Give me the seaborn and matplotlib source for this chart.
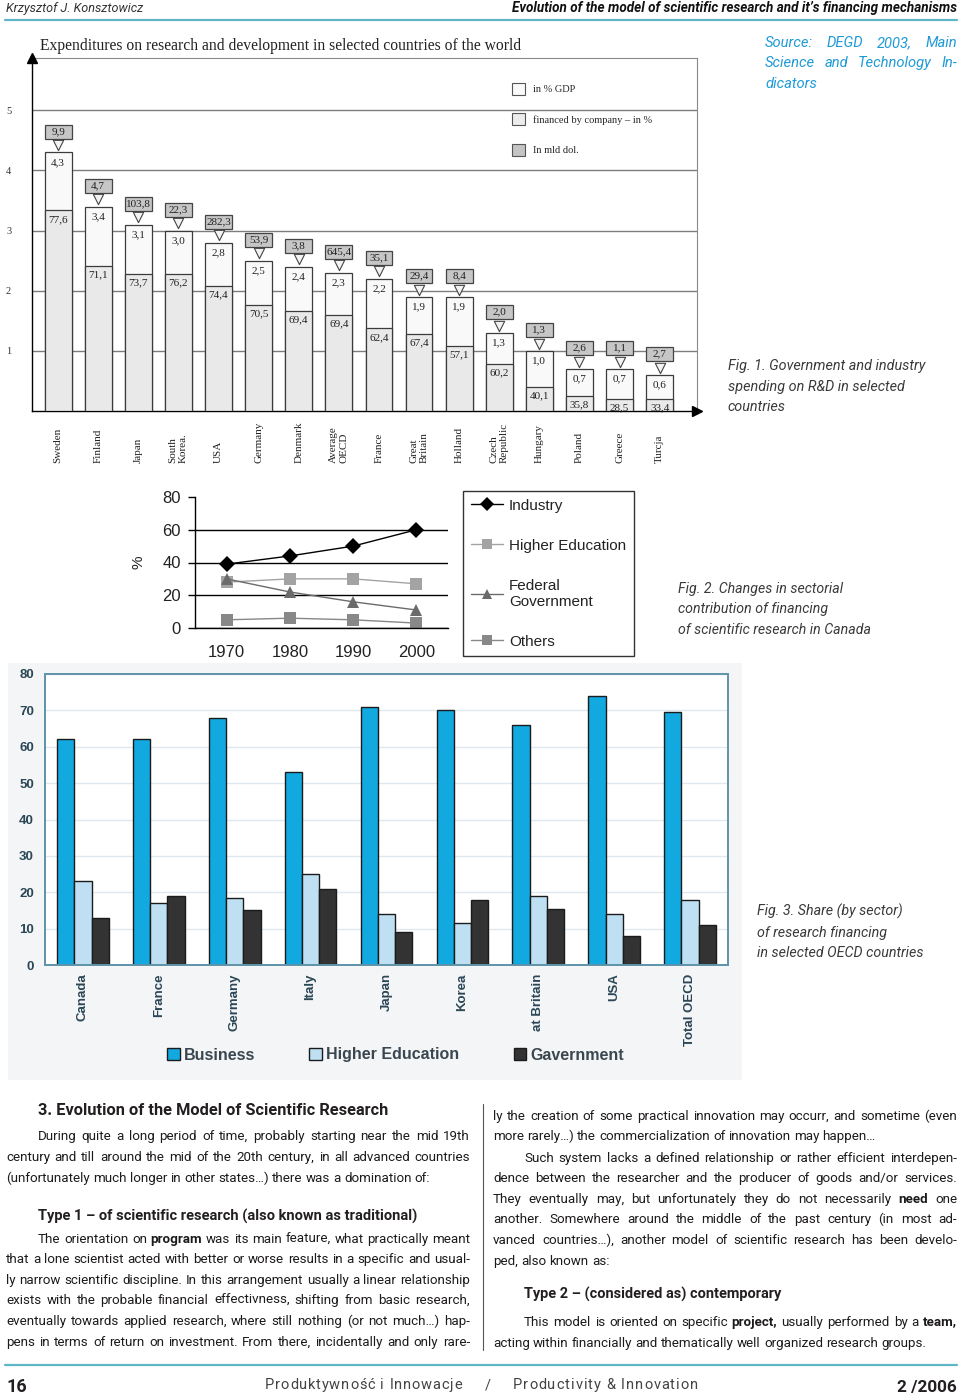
import numpy as np
import pandas as pd
import matplotlib
matplotlib.use("Agg")
import matplotlib.pyplot as plt
import matplotlib.transforms as mtransforms
import matplotlib.patheffects as pe
from matplotlib.patches import Patch, Rectangle
from matplotlib.lines import Line2D
from matplotlib import font_manager as fm
import seaborn as sns

sns.set_style("white")

# --- fig. 1 data: R&D expenditures ---
countries1 = ["Sweden", "Finland", "Japan", "South\nKorea.", "USA", "Germany", "Denmark",
              "Average\nOECD", "France", "Great\nBritain", "Holland", "Czech\nRepublic",
              "Hungary", "Poland", "Greece", "Turcja"]
gdp_share = [4.3, 3.4, 3.1, 3.0, 2.8, 2.5, 2.4, 2.3, 2.2, 1.9, 1.9, 1.3, 1.0, 0.7, 0.7, 0.6]
company_share = [77.6, 71.1, 73.7, 76.2, 74.4, 70.5, 69.4, 69.4, 62.4, 67.4, 57.1, 60.2,
                 40.1, 35.8, 28.5, 33.4]
spend_mld = [9.9, 4.7, 103.8, 22.3, 282.3, 53.9, 3.8, 645.4, 35.1, 29.4, 8.4, 2.0,
             1.3, 2.6, 1.1, 2.7]
legend1 = ["in % GDP", "financed by company \u2013 in %", "In mld dol."]

# --- fig. 2 data: Canada, sectorial contribution ---
years = ["1970", "1980", "1990", "2000"]
sectors2 = ["Industry", "Higher Education", "Federal Government", "Others"]
industry = [39, 44, 50, 60]
higher_edu = [28, 30, 30, 27]
federal_gov = [30, 22, 16, 11]
others = [5, 6, 5, 3]

# --- fig. 3 data: share by sector, OECD ---
countries3 = ["Canada", "France", "Germany", "Italy", "Japan", "Korea", "at Britain", "USA", "Total OECD"]
sectors3 = ["Business", "Higher Education", "Gavernment"]
business = [62, 62, 68, 53, 71, 70, 66, 74, 69.5]
higher_ed3 = [23, 17, 18.5, 25, 14, 11.5, 19, 14, 18]
government = [13, 19, 15, 21, 9, 18, 15.5, 8, 11]

W, H = 960, 1399
fig = plt.figure(figsize=(9.6, 13.99), dpi=100)
fig.patch.set_facecolor("white")
T = mtransforms.Affine2D().scale(1 / W, -1 / H).translate(0, 1) + fig.transFigure
rend = fig.canvas.get_renderer()


def width(t):
    return t.get_window_extent(renderer=rend).width


# --- fonts: installed sans closest to the page's condensed face ---
SANS = "Liberation Sans"
SERIF = "Liberation Serif"
plt.rcParams["font.family"] = [SANS, "DejaVu Sans"]
sample = "century and till around the mid of the 20th century, in all advanced countries"
NARROW, best = dict(family="Roboto"), 1e9
for fam, st in [("Liberation Sans Narrow", "normal"), ("Noto Sans", "condensed"),
                ("Noto Sans", "semi-condensed"), ("Noto Sans", "extra-condensed"),
                ("Roboto", "normal")]:
    try:
        fm.findfont(fm.FontProperties(family=fam, stretch=st), fallback_to_default=False)
    except ValueError:
        continue
    t = fig.text(0, 0, sample, fontsize=10, family=fam, fontstretch=st)
    w = width(t)
    t.remove()
    if abs(w - 422) < best:
        NARROW, best = dict(family=fam, fontstretch=st), abs(w - 422)
# condensed Noto has no condensed bold here, so fake it with a stroke there
FAKE_BOLD = NARROW.get("fontstretch", "normal") != "normal"

INK = "#231f20"
TEAL = "#5fb6c7"


def bold(color=INK, lw=0.6):
    if FAKE_BOLD:
        return dict(path_effects=[pe.withStroke(linewidth=lw, foreground=color)])
    return dict(fontweight="bold")


def box(l, t, r, b):
    return [l / W, 1 - b / H, (r - l) / W, (b - t) / H]


def put(x, y, s, size, w=None, ha="left", cap=99, **kw):
    t = fig.text(x, y, s, transform=T, fontsize=size, ha=ha, va="baseline", **kw)
    if w:
        t.set_fontsize(min(size * w / width(t), cap))
    return t


def words_line(x0, x1, y, s, size, justify=True, **kw):
    arts = []
    col = kw.get("color", INK)
    for w in s.split(" "):
        k = dict(kw)
        if "*" in w:
            k.update(bold(col))
        arts.append(fig.text(0, y, w.replace("*", ""), transform=T, fontsize=size,
                             va="baseline", **k))
    ws = [width(a) for a in arts]
    if justify and len(arts) > 1:
        gap = (x1 - x0 - sum(ws)) / (len(arts) - 1)
    else:
        gap = size * 0.24 * 100 / 72
    x = x0
    for a, w in zip(arts, ws):
        a.set_x(x)
        x += w + gap


def spaced(x0, x1, y, s, size, **kw):
    arts = [fig.text(0, y, ch, transform=T, fontsize=size, va="baseline", **kw) for ch in s]
    ws = [size * 0.26 * 100 / 72 if ch == " " else width(a) for a, ch in zip(arts, s)]
    track = (x1 - x0 - sum(ws)) / max(len(s) - 1, 1)
    x = x0
    for a, w in zip(arts, ws):
        a.set_x(x)
        x += w + track


def hline(x0, x1, y, **kw):
    fig.add_artist(Line2D([x0, x1], [y, y], transform=T, **kw))


# ---------------- header ----------------
put(6, 12, "Krzysztof J. Konsztowicz", 10, w=136, cap=11, style="italic", color="#333", **NARROW)
put(957, 12, "Evolution of the model of scientific research and it\u2019s financing mechanisms", 10,
    w=444, cap=11, ha="right", style="italic", color="#111", **bold("#111"), **NARROW)
hline(5, 957, 20, color=TEAL, lw=1.6)

# ---------------- fig. 1 ----------------
ax1 = fig.add_axes(box(32, 58, 697, 411))
lower = np.array(gdp_share) * np.array(company_share) / 100
top = np.array(gdp_share)
sns.barplot(x=countries1, y=gdp_share, ax=ax1, color="#f9f9f9", saturation=1, width=0.67,
            edgecolor="#3c3c3c", linewidth=0.9, zorder=3)
sns.barplot(x=countries1, y=lower, ax=ax1, color="#e9e9e9", saturation=1, width=0.67,
            edgecolor="#3c3c3c", linewidth=0.9, zorder=3)
x1 = np.arange(len(countries1))
ax1.bar(x1, 0.23, bottom=top + 0.23, width=0.67, color="#c6c6c6", edgecolor="#444",
        linewidth=0.9, zorder=4)
ax1.scatter(x1, top + 0.12, marker="v", s=55, facecolor="#f2f2f2", edgecolor="#444",
            linewidth=0.8, zorder=4)


def fmt(v):
    return f"{v:.1f}".replace(".", ",")


for i in x1:
    kw = dict(ha="center", va="center", fontsize=8, family=SERIF, color="#222", zorder=5)
    ax1.text(i, top[i] - 0.17, fmt(gdp_share[i]), **kw)
    ax1.text(i, lower[i] - 0.15, fmt(company_share[i]), **kw)
    ax1.text(i, top[i] + 0.345, fmt(spend_mld[i]), **kw)
    ax1.text(i, -0.147, countries1[i], transform=ax1.get_xaxis_transform(), rotation=90,
             ha="center", va="bottom", multialignment="left", fontsize=8, family=SERIF,
             color="#222")

ax1.set_xlim(-0.65, 15.93)
ax1.set_ylim(0, 5.87)
ax1.set_yticks([1, 2, 3, 4, 5])
ax1.set_xticks([])
ax1.set_xlabel("")
ax1.tick_params(axis="y", length=0, pad=15, labelsize=7.5, labelcolor="#333")
for lb in ax1.get_yticklabels():
    lb.set_family(SERIF)
ax1.yaxis.grid(True, color="#7d7d7d", lw=1)
ax1.set_axisbelow(True)
for s in ["top", "right"]:
    ax1.spines[s].set_color("#8a8a8a")
for s in ["left", "bottom"]:
    ax1.spines[s].set_color("black")
    ax1.spines[s].set_linewidth(1)
ax1.plot(0, 1, marker="^", color="black", ms=7, transform=ax1.transAxes, clip_on=False, zorder=6)
ax1.plot(1, 0, marker=">", color="black", ms=7, transform=ax1.transAxes, clip_on=False, zorder=6)
h1 = [Patch(facecolor=c, edgecolor="#555", lw=0.8) for c in ["#fafafa", "#ececec", "#c4c4c4"]]
ax1.legend(h1, legend1, loc="upper left", bbox_to_anchor=(512, 83), bbox_transform=T,
           frameon=False, prop={"family": SERIF, "size": 7.5}, handlelength=1.25,
           handleheight=1.4, labelspacing=1.75, handletextpad=0.8, borderaxespad=0, borderpad=0)

put(40, 50, "Expenditures on research and development in selected countries of the world", 10,
    w=480, family=SERIF, color="#222")


def caption(x, y0, lines, w):
    sz = put(x, y0, lines[0], 11, w=w, cap=12.5, style="italic", color="#3a3a3a",
             **NARROW).get_fontsize()
    for k, ln in enumerate(lines[1:], 1):
        put(x, y0 + 20.5 * k, ln, sz, style="italic", color="#3a3a3a", **NARROW)
    return sz


csz = caption(728, 370, ["Fig. 1. Government and industry", "spending on R&D in selected", "countries"], 196)

# source note
BLUE = "#1f9ad6"
ssz = min(csz * 1.03, 13)
words_line(765, 957, 47, "Source: DEGD 2003, Main", ssz, style="italic", color=BLUE, **NARROW)
words_line(765, 957, 67, "Science and Technology In-", ssz, style="italic", color=BLUE, **NARROW)
words_line(765, 957, 88, "dicators", ssz, justify=False, style="italic", color=BLUE, **NARROW)

# ---------------- fig. 2 ----------------
ax2 = fig.add_axes(box(195, 497, 448, 628))
df2 = pd.DataFrame({
    "year": years * 4,
    "share": industry + higher_edu + federal_gov + others,
    "sector": [s for s in sectors2 for _ in years],
})
cols2 = {"Industry": "#000000", "Higher Education": "#a3a3a3",
         "Federal Government": "#6b6b6b", "Others": "#888888"}
marks2 = {"Industry": "D", "Higher Education": "s", "Federal Government": "^", "Others": "s"}
sns.lineplot(data=df2, x="year", y="share", hue="sector", style="sector", palette=cols2,
             markers=marks2, dashes=False, markersize=8, markeredgewidth=0, linewidth=1,
             legend=False, ax=ax2)
ax2.set_xlim(-0.5, 3.5)
ax2.set_ylim(0, 80)
ax2.set_yticks([0, 20, 40, 60, 80])
ax2.set_xticks(np.arange(-0.5, 4, 1), minor=True)
ax2.tick_params(axis="x", which="major", length=0, pad=12, labelsize=12, labelcolor="#222")
ax2.tick_params(axis="x", which="minor", length=6, width=1, color="black", direction="out")
ax2.tick_params(axis="y", length=5, width=1, color="black", direction="out", pad=5,
                labelsize=12, labelcolor="#222", left=True)
ax2.set_xlabel("")
ax2.set_ylabel("%", fontsize=11, labelpad=12, color="#222")
ax2.yaxis.grid(True, color="black", lw=1)
ax2.get_ygridlines()[-1].set_visible(False)
for s in ["top", "right"]:
    ax2.spines[s].set_visible(False)
for s in ["left", "bottom"]:
    ax2.spines[s].set_color("black")
    ax2.spines[s].set_linewidth(1)
h2 = [Line2D([0], [0], color=cols2[s], marker=marks2[s], ms=7, mew=0, lw=1) for s in sectors2]
leg2 = ax2.legend(h2, ["Industry", "Higher Education", "Federal\nGovernment", "Others"],
                  loc="upper left", bbox_to_anchor=(463, 491), bbox_transform=T, frameon=True,
                  fancybox=False, edgecolor="black", fontsize=11, handlelength=2.1,
                  handletextpad=0.4, borderpad=0.5, labelspacing=1.7, borderaxespad=0)
leg2.get_frame().set_linewidth(1)
for t in leg2.get_texts():
    t.set_color("#222")

caption(678, 593, ["Fig. 2. Changes in sectorial", "contribution of financing",
                   "of scientific research in Canada"], 164)

# ---------------- fig. 3 ----------------
fig.add_artist(Rectangle((8, 663), 734, 417, transform=T, facecolor="#f3f5f6",
                         edgecolor="none", zorder=-5))
ax3 = fig.add_axes(box(45, 674, 728, 965))
df3 = pd.DataFrame({
    "country": countries3 * 3,
    "value": business + higher_ed3 + government,
    "sector": [s for s in sectors3 for _ in countries3],
})
sns.barplot(data=df3, x="country", y="value", hue="sector", ax=ax3,
            palette=["#12a8e0", "#bfe0f3", "#333333"], saturation=1, width=0.68,
            edgecolor="#1b1b1b", linewidth=1)
ax3.set_xlim(-0.5, 8.5)
ax3.set_ylim(0, 80)
ax3.set_yticks(range(0, 81, 10))
ax3.set_xlabel("")
ax3.set_ylabel("")
ax3.yaxis.grid(True, color="#dfe8ee", lw=1)
ax3.set_axisbelow(True)
ax3.tick_params(axis="both", length=0, labelcolor="#2b4655")
ax3.tick_params(axis="y", pad=8, labelsize=9.5)
ax3.tick_params(axis="x", pad=6, labelsize=9.5, labelrotation=90)
for lb in ax3.get_xticklabels() + ax3.get_yticklabels():
    lb.set_fontweight("bold")
for s in ax3.spines.values():
    s.set_color("#5e93a9")
    s.set_linewidth(1.4)
hh, ll = ax3.get_legend_handles_labels()
leg3 = ax3.legend(hh, ll, ncol=3, loc="center left", bbox_to_anchor=(167, 1055),
                  bbox_transform=T, frameon=False, prop={"weight": "bold", "size": 11.5},
                  handlelength=0.8, handleheight=0.8, handletextpad=0.25, columnspacing=3.4,
                  borderaxespad=0, borderpad=0)
for t in leg3.get_texts():
    t.set_color("#3a4750")

caption(757, 916, ["Fig. 3. Share (by sector)", "of research financing",
                   "in selected OECD countries"], 146)

# ---------------- body text ----------------
left_lines = [
    ("During quite a long period of time, probably starting near the mid 19th", 1140, 38, True),
    ("century and till around the mid of the 20th century, in all advanced countries", 1161, 6, True),
    ("(unfortunately much longer in other states\u2026) there was a domination of:", 1182, 6, False),
    ("The orientation on *program* was its main feature, what practically meant", 1243, 38, True),
    ("that a lone scientist acted with better or worse results in a specific and usual-", 1263, 6, True),
    ("ly narrow scientific discipline. In this arrangement usually a linear relationship", 1284, 6, True),
    ("exists with the probable financial effectivness, shifting from basic research,", 1304, 6, True),
    ("eventually towards applied research, where still nothing (or not much\u2026) hap-", 1325, 6, True),
    ("pens in terms of return on investment. From there, incidentally and only rare-", 1346, 6, True),
]
right_lines = [
    ("ly the creation of some practical innovation may occurr, and sometime (even", 1120, 493, True),
    ("more rarely\u2026) the commercialization of innovation may happen\u2026", 1140, 493, False),
    ("Such system lacks a defined relationship or rather efficient interdepen-", 1162, 524, True),
    ("dence between the researcher and the producer of goods and/or services.", 1182, 493, True),
    ("They eventually may, but unfortunately they do not necessarily *need* one", 1203, 493, True),
    ("another. Somewhere around the middle of the past century (in most ad-", 1223, 493, True),
    ("vanced countries\u2026), another model of scientific research has been develo-", 1244, 493, True),
    ("ped, also known as:", 1265, 493, False),
    ("This model is oriented on specific *project*, usually performed by a *team*,", 1326, 524, True),
    ("acting within financially and thematically well organized research groups.", 1347, 493, False),
]

# body size: largest size at which every justified line still fits
scales = []
for lines, right in [(left_lines, 470), (right_lines, 957)]:
    for s, y, x0, just in lines:
        if just:
            t = fig.text(0, 0, s.replace("*", ""), transform=T, fontsize=10, **NARROW)
            scales.append((right - x0) / width(t))
            t.remove()
body = min(10 * min(scales) * 0.99, 12.2)

for lines, right in [(left_lines, 470), (right_lines, 957)]:
    for s, y, x0, just in lines:
        words_line(x0, right, y, s, body, justify=just, color="#1d1a1b", **NARROW)

put(38, 1115, "3. Evolution of the Model of Scientific Research", 12, w=350, cap=14,
    color=INK, **bold(), **NARROW)
put(38, 1221, "Type 1 \u2013 of scientific research (also known as traditional)", 11, w=378, cap=13,
    color=INK, **bold(), **NARROW)
put(524, 1299, "Type 2 \u2013 (considered as) contemporary", 11, w=258, cap=13,
    color=INK, **bold(), **NARROW)
fig.add_artist(Line2D([483, 483], [1104, 1350], transform=T, color="#555", lw=0.8))

# ---------------- footer ----------------
hline(5, 957, 1365, color=TEAL, lw=1.6)
put(7, 1392, "16", 13, color=INK, **bold(), **NARROW)
put(957, 1392, "2 /2006", 12, w=60, cap=14, ha="right", color=INK, **bold(), **NARROW)
spaced(265, 462, 1389, "Produktywno\u015b\u0107 i Innowacje", 10.5, color="#444", **NARROW)
spaced(485, 490, 1389, "/", 10.5, color="#444", **NARROW)
spaced(513, 698, 1389, "Productivity & Innovation", 10.5, color="#444", **NARROW)

fig.savefig("out.png", dpi=100, facecolor="white")
